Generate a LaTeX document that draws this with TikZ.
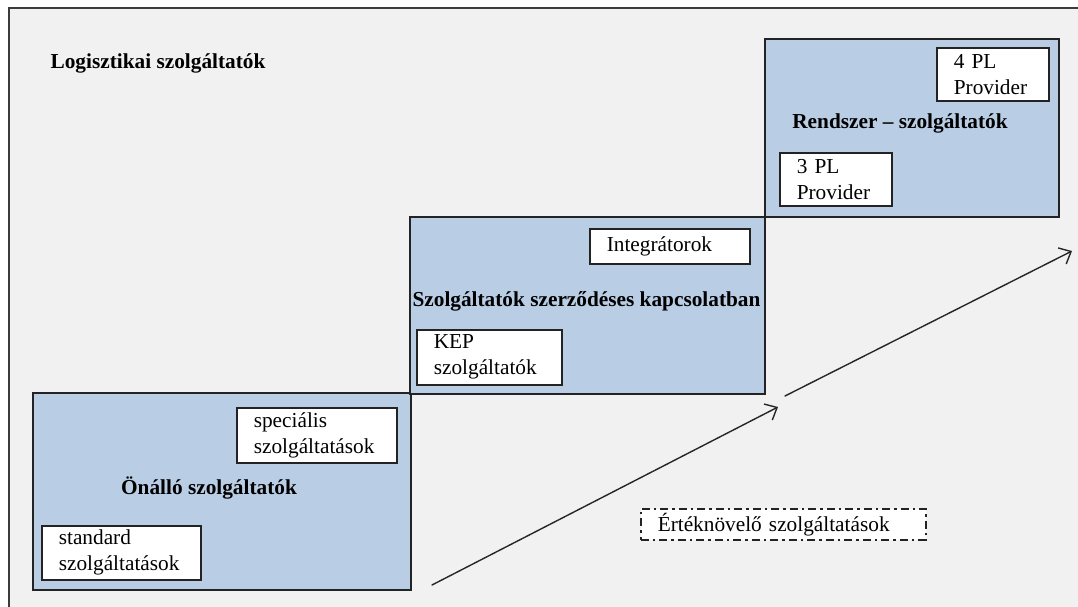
\documentclass[tikz,border=0pt]{standalone}
\usepackage{fontspec}
\setmainfont{Liberation Serif}
\usetikzlibrary{arrows.meta}

\definecolor{pagegray}{RGB}{241,241,241}
\definecolor{tierblue}{RGB}{185,205,229}
\definecolor{framegray}{RGB}{60,60,60}
\definecolor{edge}{RGB}{35,35,35}

\begin{document}
\begin{tikzpicture}[x=1pt,y=-1pt,
  every node/.style={font=\fontsize{21.3}{26}\selectfont},
  tier/.style={draw=edge, line width=1.6pt, fill=tierblue, inner sep=0pt, anchor=north west},
  member/.style={draw=edge, line width=1.6pt, fill=white, inner xsep=17pt, inner ysep=0pt,
                 align=left, anchor=north west},
  tierlabel/.style={font=\fontsize{21.3}{26}\selectfont\bfseries, inner sep=0pt},
  valuebox/.style={member, line width=1.5pt, dash pattern=on 8pt off 4pt on 2.5pt off 4pt},
  growth/.style={line width=1.4pt, draw=black!85, line cap=round,
                 -{Straight Barb[length=10pt,width=18pt,line width=1.4pt]}},
]
\useasboundingbox (0,0) rectangle (1078,607);

% page and frame
\fill[white] (0,0) rectangle (1078,607);
\filldraw[fill=pagegray, draw=framegray, line width=1.8pt] (9,8) rectangle (1095,625);

% title
\node[tierlabel] (title) at (158,63) {Logisztikai szolgáltatók};

% three tiers
\node[tier, minimum width=378, minimum height=197] (solo) at (32,392) {};
\node[tier, minimum width=355, minimum height=177] (contract) at (409,216) {};
\node[tier, minimum width=294, minimum height=178] (system) at (764,38) {};

% tier labels
\node[tierlabel] (sololabel) at (209,488) {Önálló szolgáltatók};
\node[tierlabel] (contractlabel) at (586.5,301) {Szolgáltatók szerződéses kapcsolatban};
\node[tierlabel] (systemlabel) at (900,123) {Rendszer – szolgáltatók};

% members of each tier
\node[member, minimum width=160, minimum height=55, text width=126] (special) at (236,407)
  {speciális\\szolgáltatások};
\node[member, minimum width=159, minimum height=54, text width=125] (standard) at (41,525)
  {standard\\szolgáltatások};
\node[member, minimum width=160, minimum height=35, text width=126] (integ) at (589,228)
  {Integrátorok};
\node[member, minimum width=145, minimum height=55, text width=111] (kep) at (416,329)
  {KEP\\szolgáltatók};
\node[member, minimum width=112, minimum height=53, text width=78] (pl4) at (936,47)
  {4 PL\\Provider};
\node[member, minimum width=112, minimum height=53, text width=78] (pl3) at (779,152)
  {3 PL\\Provider};

% value-added services
\node[valuebox, minimum width=285, minimum height=31, text width=251] (value) at (640,508)
  {Értéknövelő szolgáltatások};

% growth arrows
\coordinate (g1s) at (432,585);
\coordinate (g1e) at (778,407);
\coordinate (g2s) at (785,396);
\coordinate (g2e) at (1072,251);
\draw[growth] (g1s) -- (g1e);
\draw[growth] (g2s) -- (g2e);
\end{tikzpicture}
\end{document}
